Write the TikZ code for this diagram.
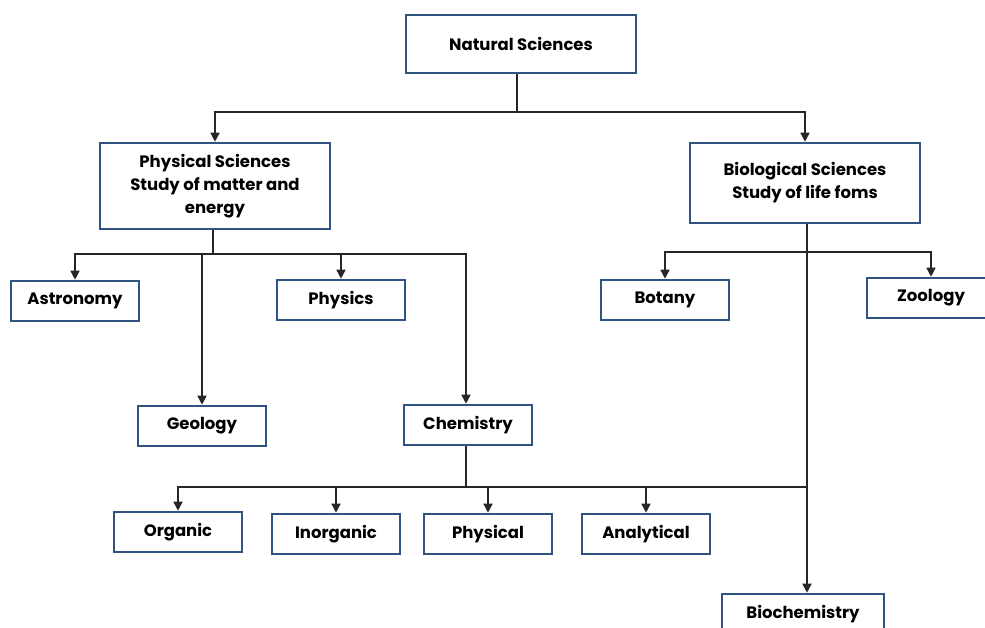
\documentclass[tikz,border=0pt]{standalone}
\usepackage{fontspec}
\setmainfont{Poppins}
\usetikzlibrary{arrows.meta}
\definecolor{boxblue}{RGB}{48,84,130}
\tikzset{
  box/.style={draw=boxblue, line width=2.6pt, fill=white, inner sep=0pt, align=center,
    font=\fontsize{16.5}{23}\selectfont\bfseries, text=black},
  leaf/.style={box, minimum width=128, minimum height=40},
  conn/.style={line width=1.5pt, draw=black!85},
  arr/.style={conn, -{Triangle[length=9pt,width=9pt]}},
}
\begin{document}
\begin{tikzpicture}[x=1pt,y=-1pt]
\useasboundingbox (0,0) rectangle (985,627);
\clip (0,0) rectangle (985,627);
\node[box, minimum width=230, minimum height=58] (nat) at (521,44) {Natural Sciences};
\node[box, minimum width=230, minimum height=86] (phys) at (215,186) {Physical Sciences\\Study of matter and\\energy};
\node[box, minimum width=230, minimum height=80] (bio) at (805,183) {Biological Sciences\\Study of life foms};
\node[leaf] (astro) at (75,301) {Astronomy};
\node[leaf] (physics) at (341,300) {Physics};
\node[leaf] (bot) at (665,300) {Botany};
\node[leaf] (zoo) at (931,298) {Zoology};
\node[leaf] (geo) at (202,426) {Geology};
\node[leaf] (chem) at (468,425) {Chemistry};
\node[leaf] (org) at (178,532) {Organic};
\node[leaf] (inorg) at (336,534) {Inorganic};
\node[leaf] (physc) at (488,534) {Physical};
\node[leaf] (anal) at (646,534) {Analytical};
\node[box, minimum width=162, minimum height=40] (biochem) at (803,614) {Biochemistry};

\coordinate (j1) at (517,112);
\coordinate (j2) at (213,254);
\coordinate (j3) at (807,252);
\coordinate (j4) at (466,487);
\coordinate (j5) at (807,487);

\draw[conn] (j1 |- nat.south) -- (j1);
\draw[arr] (j1) -| (phys.north);
\draw[arr] (j1) -| (bio.north);

\draw[conn] (j2 |- phys.south) -- (j2);
\draw[arr] (j2) -| (astro.north);
\draw[arr] (j2) -| (physics.north);
\draw[arr] (j2) -| (geo.north);
\draw[arr] (j2) -| ([xshift=-2]chem.north);

\draw[conn] (j3 |- bio.south) -- (j3);
\draw[arr] (j3) -| (bot.north);
\draw[arr] (j3) -| (zoo.north);
\draw[arr] (j3) -- (j3 |- biochem.north);

\draw[conn] ([xshift=-2]chem.south) -- (j4);
\draw[arr] (j4) -| (org.north);
\draw[arr] (j4) -| (inorg.north);
\draw[arr] (j4) -| (physc.north);
\draw[arr] (j4) -| (anal.north);
\draw[conn] (j4) -- (j5);
\end{tikzpicture}
\end{document}
